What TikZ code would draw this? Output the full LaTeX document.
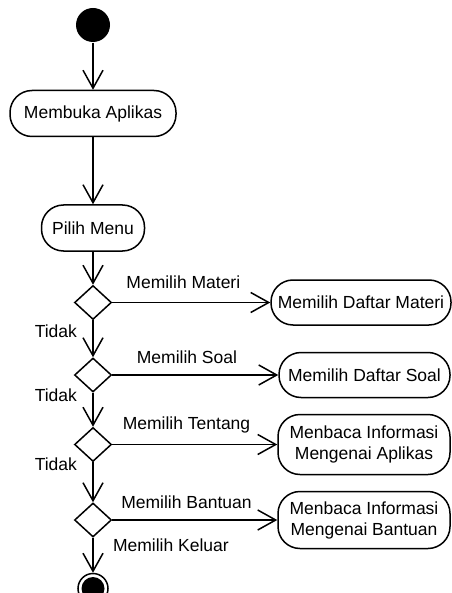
\documentclass[tikz,border=0pt]{standalone}
\usepackage{fontspec}
\setmainfont{Liberation Sans}
\usepackage{tikz}
\usetikzlibrary{arrows.meta, positioning, shapes.geometric}

\begin{document}
\begin{tikzpicture}[
  font=\fontsize{17.5}{21}\selectfont,
  line width=1.5pt,
  initial/.style={circle, fill=black, minimum size=34pt, inner sep=0pt},
  final/.style={circle, draw, minimum size=30pt, inner sep=0pt,
    path picture={\fill (path picture bounding box.center) circle (11.5pt);}},
  activity/.style={rectangle, rounded corners=22pt, draw, align=center, inner sep=2pt},
  decision/.style={diamond, draw, minimum width=37pt, minimum height=34pt, inner sep=0pt},
  flow/.style={-{Straight Barb[length=18pt, width=20pt]}}
]
\useasboundingbox (0,0) rectangle (451pt,-593pt);

\node[initial] (start) at (93pt,-25pt) {};
\node[activity, minimum width=166pt, minimum height=46pt, below=47pt of start] (buka) {Membuka Aplikas};
\node[activity, minimum width=103pt, minimum height=46pt, below=67pt of buka] (menu) {Pilih Menu};
\node[decision, below=33pt of menu] (d1) {};
\node[decision, below=37pt of d1] (d2) {};
\node[decision, below=34pt of d2] (d3) {};
\node[decision, below=40pt of d3] (d4) {};
\node[final, below=35pt of d4] (end) {};

\node[activity, minimum width=180pt, minimum height=45pt, right=158pt of d1] (materi) {Memilih Daftar Materi};
\node[activity, minimum width=171pt, minimum height=45pt, right=166pt of d2] (soal) {Memilih Daftar Soal};
\node[activity, minimum width=172pt, minimum height=60pt, right=165pt of d3] (tentang) {Menbaca Informasi\\Mengenai Aplikas};
\node[activity, minimum width=172pt, minimum height=57pt, right=165pt of d4] (bantuan) {Menbaca Informasi\\Mengenai Bantuan};

\draw[flow] (start) -- (buka);
\draw[flow] (buka) -- (menu);
\draw[flow] (menu) -- (d1);
\draw[flow] (d1) -- node[left=12pt, pos=0.3] {Tidak} (d2);
\draw[flow] (d2) -- node[left=12pt, pos=0.08] {Tidak} (d3);
\draw[flow] (d3) -- node[left=12pt, pos=0.05] {Tidak} (d4);
\draw[flow] (d4) -- node[right=16pt, pos=0.2] {Memilih Keluar} (end);

\draw[flow] (d1) -- node[above=10pt, pos=0.45] {Memilih Materi} (materi);
\draw[flow] (d2) -- node[above=7pt, pos=0.45] {Memilih Soal} (soal);
\draw[flow] (d3) -- node[above=7pt, pos=0.45] {Memilih Tentang} (tentang);
\draw[flow] (d4) -- node[above=7pt, pos=0.45] {Memilih Bantuan} (bantuan);
\end{tikzpicture}
\end{document}
